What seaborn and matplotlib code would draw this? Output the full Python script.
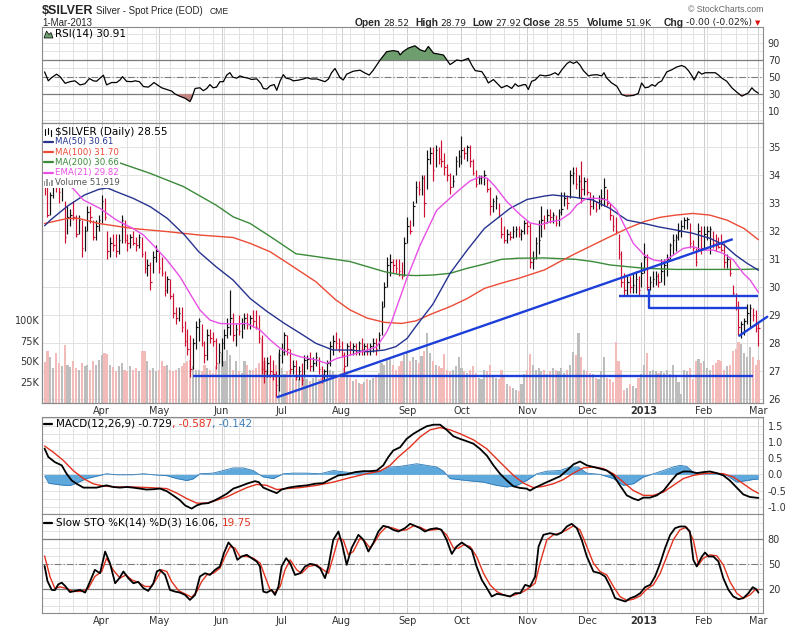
import numpy as np
import pandas as pd
import matplotlib
matplotlib.use("Agg")
import matplotlib.pyplot as plt
from matplotlib.lines import Line2D
from matplotlib.patches import Rectangle, Polygon
import seaborn as sns

# ======================= DATA =======================
holidays = ["2012-04-06", "2012-05-28", "2012-07-04", "2012-09-03", "2012-11-22",
            "2012-12-25", "2013-01-01", "2013-01-21", "2013-02-18"]

highs = [
    34.3, 33.6, 33.4, 34.0, 34.2, 33.7, 33.9, 33.1, 32.9, 32.8,
    33.1, 32.6, 32.6, 32.4, 32.2, 32.9, 32.9, 32.4, 32.4, 32.6,
    33.3, 33.2, 32.0, 31.8, 31.9, 31.9, 31.9, 32.6, 32.4, 31.9,
    31.9, 32.0, 31.8, 31.9, 31.8, 31.3, 31.0, 30.9, 31.3, 31.5,
    31.3, 31.1, 30.6, 30.4, 30.3, 29.8, 29.3, 29.3, 29.3, 28.8,
    28.5, 28.3, 28.2, 28.8, 28.9, 28.7, 28.1, 28.5, 28.5, 28.4,
    28.2, 28.0, 28.2, 28.5, 28.9, 29.9, 29.1, 28.7, 29.0, 28.9,
    29.1, 29.1, 29.0, 29.2, 29.2, 29.0, 28.3, 27.5, 27.5, 27.6,
    27.4, 27.0, 27.8, 28.0, 28.4, 28.3, 27.8, 27.4, 27.4, 27.2,
    27.3, 27.6, 27.6, 27.7, 27.5, 27.7, 27.5, 27.2, 27.1, 27.4,
    28.1, 28.3, 28.4, 28.2, 28.1, 27.7, 28.0, 28.1, 28.0, 28.0,
    28.1, 28.2, 28.0, 28.0, 28.0, 28.2, 28.2, 28.4, 29.5, 30.2,
    31.1, 31.2, 31.0, 31.0, 31.0, 30.9, 31.8, 32.5, 32.4, 33.1,
    33.8, 33.8, 34.0, 34.0, 34.9, 35.0, 35.0, 35.1, 35.0, 35.26,
    34.8, 34.4, 34.1, 34.0, 34.7, 34.9, 35.4, 35.0, 35.1, 35.1,
    34.6, 34.2, 34.0, 34.0, 34.2, 33.9, 33.6, 33.2, 33.3, 33.0,
    32.5, 32.2, 32.1, 32.0, 32.2, 32.2, 32.2, 32.1, 32.4, 32.4,
    32.3, 31.3, 31.8, 32.4, 32.9, 32.6, 32.8, 32.8, 32.7, 32.6,
    32.8, 33.4, 33.4, 33.3, 34.2, 34.3, 34.3, 34.0, 34.5, 33.95,
    33.9, 33.4, 33.3, 33.1, 33.3, 33.5, 33.9, 33.5, 33.0, 32.6,
    32.5, 31.9, 31.3, 30.5, 30.4, 30.4, 30.5, 30.6, 30.4, 30.9,
    31.6, 31.2, 30.4, 30.6, 30.6, 30.5, 31.0, 31.0, 31.2, 31.6,
    31.9, 31.9, 32.3, 32.4, 32.5, 32.5, 32.3, 31.7, 31.4, 32.3,
    32.2, 32.2, 32.2, 32.2, 32.0, 31.9, 31.8, 31.9, 31.6, 31.2,
    31.0, 30.1, 29.8, 29.5, 28.8, 28.9, 29.4, 29.4, 29.25, 29.2,
    28.79]

lows = [
    33.3, 32.5, 32.6, 33.2, 33.4, 33.0, 33.1, 31.6, 31.9, 32.2,
    32.4, 31.8, 31.9, 31.1, 31.3, 32.0, 32.3, 31.7, 31.7, 32.0,
    32.3, 32.4, 31.0, 31.1, 31.3, 31.1, 31.2, 31.6, 31.6, 31.3,
    31.4, 31.5, 31.3, 31.4, 31.1, 30.5, 30.4, 29.9, 30.5, 30.9,
    30.5, 30.4, 29.7, 29.8, 29.6, 28.9, 28.7, 28.8, 28.4, 27.9,
    27.6, 26.8, 27.1, 27.8, 28.1, 27.9, 27.3, 27.4, 28.0, 27.9,
    27.1, 27.3, 27.2, 27.8, 28.2, 28.3, 28.1, 27.9, 28.3, 28.2,
    28.5, 28.5, 28.5, 28.6, 28.5, 28.0, 26.9, 26.6, 26.8, 26.8,
    26.7, 26.1, 26.3, 27.3, 27.6, 27.6, 26.9, 26.9, 26.7, 26.7,
    26.5, 26.8, 27.1, 27.0, 27.0, 27.2, 26.9, 26.6, 26.7, 26.8,
    27.2, 27.6, 27.8, 27.7, 27.5, 26.95, 27.2, 27.6, 27.6, 27.6,
    27.6, 27.6, 27.6, 27.6, 27.6, 27.7, 27.6, 27.8, 28.3, 29.3,
    30.0, 30.4, 30.5, 30.5, 30.4, 30.3, 30.4, 31.6, 31.9, 32.2,
    33.0, 33.3, 33.3, 32.5, 33.5, 34.4, 33.8, 34.3, 34.4, 34.3,
    34.0, 33.8, 33.35, 33.6, 34.0, 34.3, 34.4, 34.6, 34.5, 34.3,
    34.0, 33.6, 33.7, 33.7, 33.65, 33.4, 32.6, 32.7, 32.8, 32.5,
    31.75, 31.6, 31.6, 31.7, 31.75, 31.8, 31.8, 31.7, 31.9, 31.9,
    30.7, 30.65, 31.0, 31.2, 31.8, 32.1, 32.3, 32.3, 32.3, 32.2,
    32.2, 32.6, 32.9, 32.8, 33.2, 33.7, 33.5, 33.2, 33.0, 33.3,
    33.3, 32.6, 32.8, 32.7, 32.8, 32.9, 32.9, 32.9, 32.4, 32.0,
    31.9, 31.0, 30.0, 29.7, 29.7, 29.8, 29.8, 29.8, 29.7, 30.0,
    30.5, 29.9, 29.9, 30.0, 30.1, 30.0, 30.2, 30.1, 30.4, 31.0,
    31.2, 31.3, 31.7, 31.8, 32.1, 32.1, 31.4, 31.3, 30.75, 31.3,
    31.2, 31.4, 31.7, 31.2, 31.4, 31.3, 31.4, 31.3, 30.7, 30.7,
    30.4, 29.7, 29.2, 28.3, 28.2, 28.3, 28.7, 28.6, 28.8, 28.4,
    27.92]

closes = [
    33.7, 32.6, 33.3, 33.8, 33.6, 33.4, 33.7, 31.8, 32.5, 32.6,
    32.5, 31.9, 32.4, 31.4, 32.0, 32.7, 32.5, 31.8, 32.2, 32.4,
    33.1, 32.5, 31.3, 31.6, 31.5, 31.3, 31.7, 32.4, 31.7, 31.6,
    31.8, 31.6, 31.5, 31.8, 31.2, 30.7, 30.8, 30.2, 31.1, 31.3,
    30.7, 30.5, 29.9, 30.3, 29.7, 29.1, 28.9, 29.1, 28.6, 28.1,
    27.8, 27.1, 28.0, 28.6, 28.8, 28.0, 27.6, 28.3, 28.2, 28.1,
    27.3, 27.7, 28.0, 28.3, 28.6, 28.9, 28.3, 28.5, 28.45, 28.7,
    28.9, 28.7, 28.9, 28.8, 28.6, 28.2, 27.1, 27.0, 27.3, 27.0,
    26.9, 26.5, 27.6, 27.7, 28.3, 27.8, 27.1, 27.2, 26.8, 27.0,
    26.7, 27.4, 27.45, 27.2, 27.3, 27.5, 27.1, 26.8, 27.0, 27.3,
    27.9, 28.1, 28.0, 27.9, 27.6, 27.2, 27.9, 27.8, 27.9, 27.7,
    28.0, 27.8, 27.9, 27.8, 27.9, 28.0, 27.8, 28.3, 29.3, 30.0,
    30.8, 30.9, 30.8, 30.7, 30.6, 30.4, 31.6, 32.2, 32.0, 32.9,
    33.6, 33.5, 33.9, 33.0, 34.6, 34.8, 34.2, 34.9, 34.6, 34.5,
    34.3, 34.0, 33.6, 33.8, 34.5, 34.7, 34.9, 34.8, 35.0, 34.5,
    34.1, 33.7, 33.9, 33.95, 34.0, 33.5, 32.9, 33.1, 33.2, 32.6,
    31.9, 31.7, 31.9, 31.8, 32.0, 32.1, 31.9, 32.0, 32.3, 32.2,
    30.9, 31.0, 31.6, 31.7, 32.4, 32.3, 32.6, 32.5, 32.6, 32.3,
    32.7, 32.8, 33.2, 33.0, 34.0, 34.1, 33.7, 33.8, 33.5, 33.8,
    33.4, 32.9, 33.1, 32.8, 33.1, 33.2, 33.6, 33.0, 32.6, 32.2,
    32.0, 31.2, 30.2, 29.9, 30.2, 30.0, 30.1, 30.3, 29.9, 30.5,
    31.1, 30.0, 30.2, 30.3, 30.4, 30.2, 30.6, 30.8, 31.0, 31.5,
    31.7, 31.8, 32.0, 32.2, 32.4, 32.45, 31.6, 31.4, 30.9, 32.0,
    31.4, 31.9, 32.0, 32.1, 31.6, 31.5, 31.45, 31.35, 30.9, 31.0,
    30.5, 29.8, 29.3, 28.6, 28.7, 28.8, 29.1, 29.25, 29.0, 28.55,
    28.55]

volumes_k = [
    49, 62, 55, 42, 60, 48, 44, 70, 45, 43,
    50, 42, 40, 48, 44, 45, 40, 50, 46, 52,
    58, 60, 59, 45, 43, 38, 44, 48, 40, 38,
    44, 40, 42, 38, 62, 63, 50, 40, 42, 38,
    40, 50, 44, 46, 40, 38, 40, 42, 44, 48,
    50, 52, 44, 40, 40, 38, 46, 42, 40, 36,
    44, 48, 60, 50, 64, 58, 40, 50, 38, 36,
    50, 45, 40, 40, 42, 48, 77, 50, 40, 35,
    38, 45, 60, 42, 35, 38, 40, 30, 32, 28,
    35, 30, 28, 26, 30, 32, 28, 30, 35, 32,
    40, 38, 35, 30, 36, 42, 38, 30, 26, 28,
    24, 22, 25, 28, 27, 30, 32, 36, 48, 45,
    52, 55, 46, 40, 44, 50, 58, 60, 50, 55,
    52, 48, 56, 63, 85, 60, 50, 45, 44, 42,
    59, 40, 38, 40, 44, 55, 42, 38, 36, 40,
    44, 36, 30, 28, 40, 38, 45, 34, 30, 28,
    40, 32, 22, 20, 18, 15, 14, 22, 35, 40,
    59, 45, 40, 42, 38, 40, 35, 38, 42, 40,
    38, 42, 36, 40, 45, 61, 58, 85, 55, 40,
    38, 36, 35, 30, 28, 38, 55, 30, 28, 25,
    73, 50, 40, 15, 18, 22, 20, 18, 30, 35,
    45, 60, 38, 40, 38, 36, 38, 36, 40, 35,
    45, 32, 25, 10, 40, 38, 42, 28, 50, 53,
    48, 50, 42, 40, 45, 48, 52, 50, 40, 44,
    45, 62, 65, 73, 71, 60, 55, 67, 55, 45,
    52]

ma50_day = [0, 2, 8, 14, 19, 22, 25, 31, 37, 43, 49, 54, 60, 66, 72, 78, 84, 89.5, 95, 101,
            107, 113, 119, 123, 127, 130, 136, 142, 148, 154, 160, 163, 169, 175, 178, 186,
            192, 198, 204, 210, 215, 221, 227, 233, 238, 242, 246, 250]
ma50_val = [32.2, 32.4, 32.9, 33.3, 33.5, 33.55, 33.42, 33.18, 32.88, 32.46, 31.87, 31.27,
            30.74, 30.26, 29.6, 29.13, 28.71, 28.36, 28.0, 27.76, 27.76, 27.7, 27.76, 27.88,
            28.18, 28.6, 29.4, 30.5, 31.33, 32.1, 32.58, 32.82, 33.14, 33.26, 33.3, 33.21,
            33.12, 32.82, 32.4, 32.28, 32.16, 32.05, 31.93, 31.75, 31.51, 31.15, 30.86, 30.61]

ma100_day = [0, 8, 12, 19, 31, 43, 54, 66, 72, 79, 87, 95, 102, 107, 113, 119, 125, 130, 136,
             142, 148, 154, 160, 166, 175, 180.5, 186, 192, 198, 204, 210, 215.5, 221, 227,
             233, 239, 245, 250]
ma100_val = [32.28, 32.46, 32.46, 32.28, 32.1, 31.99, 31.87, 31.78, 31.57, 31.27, 30.74, 30.2,
             29.55, 29.19, 28.9, 28.75, 28.71, 28.8, 29.07, 29.31, 29.6, 29.96, 30.15, 30.32,
             30.62, 30.92, 31.21, 31.51, 31.81, 32.1, 32.35, 32.5, 32.58, 32.64, 32.58, 32.4,
             32.1, 31.70]

ma200_day = [0, 10, 25, 37, 48.6, 60, 66, 72, 80, 88, 95, 107, 119, 125, 130, 136, 142, 148,
             154, 160, 166, 175, 186, 192, 198, 204, 210, 221, 233, 245, 250]
ma200_val = [35.1, 34.85, 34.49, 34.07, 33.6, 32.94, 32.52, 32.28, 31.75, 31.2, 31.1, 30.92,
             30.56, 30.44, 30.42, 30.44, 30.5, 30.68, 30.83, 31.0, 31.04, 31.05, 31.0, 30.92,
             30.8, 30.74, 30.68, 30.64, 30.64, 30.64, 30.66]

ema21_day = [0, 5, 10, 13.6, 19.4, 25.2, 31, 34.6, 38, 42.8, 47.4, 50.9, 54.4, 57.9, 61.4, 66,
             70.8, 75.4, 79, 82.5, 86, 89.5, 95.4, 98.8, 102.3, 107, 113, 116.3, 119.8, 121.5,
             126.8, 131.5, 137.3, 144.3, 149, 152.5, 155, 157.8, 161.9, 166.5, 170, 173.5, 177,
             180.5, 184, 186.4, 189.9, 193.4, 196.9, 200.4, 202.7, 206.2, 210, 213.2, 216.7,
             220.2, 223.7, 227.2, 230.7, 234.2, 237.7, 241.2, 244.7, 247.1, 250]
ema21_val = [34.0, 33.8, 33.53, 33.12, 32.82, 32.4, 32.1, 31.87, 31.51, 30.98, 30.38, 29.78,
             29.19, 28.83, 28.71, 28.69, 28.71, 28.48, 28.12, 27.82, 27.64, 27.52, 27.4, 27.28,
             27.46, 27.58, 27.76, 27.88, 28.4, 28.77, 30.3, 31.5, 32.75, 33.4, 33.8, 33.95,
             33.9, 33.6, 33.06, 32.6, 32.3, 32.23, 32.34, 32.4, 32.64, 32.94, 33.18, 33.18,
             33.12, 32.76, 32.28, 31.57, 31.15, 30.98, 30.92, 31.15, 31.39, 31.45, 31.33,
             31.33, 31.21, 30.98, 30.5, 30.26, 29.82]

rsi_day = [0, 1.3, 2.5, 4.2, 5.4, 7.2, 8.9, 10.6, 12.4, 14.1, 15.7, 17.1, 18.2, 20.6, 21.7,
           23.5, 25.2, 26.4, 27.3, 28.7, 30.5, 31.7, 33.2, 34.6, 36.3, 37.5, 38.3, 39.3, 41,
           42.8, 44.5, 45.7, 47.4, 49.2, 50.9, 51.5, 52.7, 54.4, 55.6, 56.8, 57.9, 59, 60.2,
           61.4, 62.6, 63.8, 64.9, 65.9, 67.3, 68.4, 69.6, 71.3, 72.5, 74.3, 75.7, 76.6, 77.8,
           79, 80.4, 81.3, 82.5, 83.6, 84.6, 86, 87.1, 88.9, 90.6, 91.8, 93.5, 95.3, 97, 98.2,
           99.4, 100.5, 101.7, 103.5, 104.6, 105.8, 108.1, 110.5, 112, 113.7, 115.1, 117.5,
           119.8, 122.1, 123.8, 124.5, 125.6, 127.4, 129.7, 131.5, 133.2, 134.4, 136.2, 138,
           139.7, 140.9, 142, 143.1, 144.3, 146.1, 148.4, 149.6, 150.8, 153.1, 154.3, 155.4,
           157.2, 158.9, 160, 161.9, 163.6, 164.8, 165.9, 167.7, 168.5, 169.4, 170.6, 171.8,
           173.5, 175.3, 177, 178.8, 179.9, 181.1, 183, 184, 185.2, 186.4, 187.5, 188.7,
           190.5, 191.7, 193.4, 195.1, 195.9, 196.9, 198.6, 200.4, 202.1, 203.8, 206.2,
           207.9, 209.1, 210.3, 211.5, 212.7, 213.8, 215, 216.1, 217.9, 219.7, 221.4, 223.1,
           224.3, 225.5, 226.7, 227.5, 229, 230.2, 231.3, 233.1, 234.9, 236, 237.2, 238.9,
           240.7, 242.4, 244.2, 245.3, 246.5, 247.7, 248.5, 250]
rsi_val = [56, 45.5, 49.4, 53.3, 50.4, 42.6, 44.5, 45.5, 40.7, 42, 48.2, 45.5, 45, 52.1, 40.7,
           43.5, 43.5, 46.5, 50.4, 44.9, 44.5, 45.5, 44.5, 38.8, 38.1, 41.1, 43.5, 41.1, 37.3,
           35.3, 33.4, 30.0, 27.3, 25, 21.1, 25, 36.5, 37.3, 33.9, 36.5, 41.1, 37.3, 38.1,
           44.5, 44.5, 52.3, 55.1, 49.8, 48.6, 51.3, 49.8, 48.6, 47.1, 47.8, 42.6, 36.5, 35.8,
           39.7, 41.1, 34.3, 45.5, 52.7, 48.6, 47.6, 45.5, 46.3, 47.6, 49.2, 47.6, 47.7, 45.8,
           44.5, 47.6, 55, 60, 49, 46.5, 53.3, 56.8, 58, 55, 52.3, 58, 70, 79.8, 81, 80, 76,
           80, 84, 86.7, 82, 80, 85.9, 78, 77, 75.8, 70, 64.6, 67, 70, 69, 72, 64, 57.5, 56.3,
           50.4, 43, 47, 41, 37.3, 40, 36.5, 42, 39, 41, 41, 35.3, 45, 46.5, 52.3, 51.3, 52.3,
           55, 52.3, 58.3, 66, 68, 66, 68, 64, 57.5, 51.3, 52.3, 52.7, 51.3, 55, 48.6, 43,
           39.2, 29.4, 27.5, 28.3, 30.6, 43, 37.3, 38.1, 41.1, 39.2, 43.5, 45.3, 56, 58.6,
           61.8, 63.5, 61.8, 57.5, 51.4, 46.5, 56.3, 53.3, 55, 55, 55, 52.3, 48.6, 45, 37.3,
           32.2, 27.5, 29.4, 31.4, 37.3, 34.3, 30.91]

macd_day = [0, 1.3, 3.6, 6, 7.7, 9.5, 11.2, 13.6, 16, 18.2, 20, 21.7, 24, 26.4, 28.7, 31, 33.4,
            35.7, 38, 40.4, 42.8, 45, 47.4, 49.2, 51.5, 53.3, 55, 57.3, 59.7, 61.4, 63.8, 66.1,
            68.4, 71.4, 73.7, 75, 76.6, 79, 81.3, 83, 85.4, 88.3, 91.8, 94.7, 97.6, 100.6,
            102.9, 105.8, 108.7, 111.7, 114, 116.3, 118.6, 120.4, 122.1, 124.5, 126.8, 129.2,
            131.5, 133.8, 136.2, 138.5, 140.8, 143.2, 145.5, 147.8, 150.2, 152.5, 154.9, 157.2,
            159.5, 161.9, 164.2, 166.5, 168.8, 170, 171.8, 173.5, 175.9, 178.2, 180.5, 182.9,
            185.2, 187.5, 189.9, 192.2, 194.5, 196.9, 199.2, 201.5, 203.9, 206.2, 207.9, 209.7,
            212, 214.4, 216.8, 219.1, 221.4, 223.7, 226, 228.4, 230.7, 233, 235.4, 237.7, 240,
            242.4, 244.7, 247, 250]
macd_val = [0.8, 0.54, 0.38, 0.28, 0.02, -0.19, -0.29, -0.41, -0.41, -0.41, -0.37, -0.34,
            -0.39, -0.41, -0.39, -0.41, -0.44, -0.47, -0.46, -0.44, -0.52, -0.65, -0.8, -0.96,
            -1.06, -0.96, -0.91, -0.89, -0.8, -0.72, -0.6, -0.44, -0.37, -0.27, -0.21, -0.24,
            -0.41, -0.5, -0.58, -0.47, -0.41, -0.37, -0.34, -0.29, -0.27, -0.13, -0.03, 0.0,
            0.07, 0.1, 0.1, 0.12, 0.28, 0.54, 0.74, 0.84, 1.1, 1.26, 1.38, 1.49, 1.54, 1.54,
            1.38, 1.18, 1.1, 1.03, 0.95, 0.79, 0.58, 0.28, 0.02, -0.19, -0.37, -0.42, -0.44,
            -0.5, -0.41, -0.34, -0.24, -0.15, -0.06, 0.12, 0.31, 0.4, 0.28, 0.23, 0.18, 0.12,
            -0.03, -0.34, -0.65, -0.75, -0.8, -0.72, -0.72, -0.65, -0.5, -0.24, 0.0, 0.09,
            0.09, 0.04, 0.07, 0.09, 0.04, -0.03, -0.19, -0.41, -0.62, -0.7, -0.729]

signal_day = [0, 3, 6.6, 10, 13.6, 17, 20.6, 25.2, 31, 36.9, 42.8, 46.3, 49.8, 53.3, 56.8,
              60.3, 63.8, 67.3, 70.8, 74.3, 77.8, 81.3, 84.8, 89.5, 95.3, 101.1, 107, 112.8,
              117.5, 121, 123.9, 128, 131.5, 135, 138.5, 142, 145.5, 150.2, 154.9, 159.5,
              164.2, 167.7, 171.2, 174.7, 178.2, 181.7, 185.2, 188.7, 192.2, 195.7, 199.2,
              202.7, 206.2, 209.7, 213.2, 216.7, 220.2, 223.7, 227.2, 230.7, 234.2, 237.7,
              241.2, 244.7, 247.6, 250]
signal_val = [0.88, 0.69, 0.43, 0.12, -0.13, -0.29, -0.36, -0.39, -0.39, -0.41, -0.44, -0.58,
              -0.75, -0.89, -0.89, -0.8, -0.7, -0.55, -0.41, -0.31, -0.34, -0.47, -0.44, -0.41,
              -0.34, -0.24, -0.1, 0.02, 0.1, 0.28, 0.54, 0.85, 1.16, 1.38, 1.45, 1.38, 1.26,
              1.07, 0.79, 0.38, -0.03, -0.27, -0.41, -0.37, -0.29, -0.16, 0.04, 0.2, 0.23, 0.18,
              0.02, -0.24, -0.5, -0.65, -0.65, -0.55, -0.34, -0.13, -0.03, 0.02, 0.04, 0.02,
              -0.08, -0.29, -0.47, -0.587]

hist_day = [0, 1.5, 3.6, 5, 7.2, 9, 11.2, 14.7, 18, 21.7, 25, 31, 34.6, 38, 42.8, 46.3, 49.8,
            52, 54.4, 59, 62.6, 66, 69.6, 73, 76.6, 80.1, 83.6, 87.1, 91.8, 96.5, 101.1, 104.6,
            108.1, 112.8, 117.5, 121, 124.5, 126.8, 130.3, 133.8, 137.3, 139.7, 142, 147.8,
            153.7, 158.3, 161.9, 165.4, 168.8, 172.4, 175.9, 180.5, 184, 186.9, 189.9, 194.5,
            199.2, 202.7, 206.2, 209.7, 213.2, 216.7, 220.2, 222.5, 224.8, 227.2, 230.7, 234.2,
            238.9, 242.4, 245.9, 248, 250]
hist_val = [-0.05, -0.28, -0.3, -0.32, -0.34, -0.34, -0.27, -0.13, -0.06, 0.02, -0.01, -0.01,
            0.02, -0.01, -0.04, -0.13, -0.19, -0.14, 0.02, 0.04, 0.12, 0.2, 0.2, 0.12, -0.08,
            -0.13, 0.02, 0.04, 0.04, 0.02, 0.12, 0.08, 0.05, 0.08, 0.12, 0.23, 0.25, 0.28, 0.33,
            0.28, 0.23, 0.1, -0.13, -0.19, -0.24, -0.34, -0.39, -0.34, -0.19, 0.02, 0.1, 0.12,
            0.23, 0.23, 0.04, 0.0, -0.13, -0.34, -0.29, -0.08, 0.02, 0.12, 0.23, 0.28, 0.25,
            0.07, 0.04, 0.02, -0.03, -0.24, -0.19, -0.16, -0.142]

stok_day = [0, 1, 2.5, 3.6, 4.8, 6, 7.2, 8.9, 10.6, 12.4, 14.2, 15.9, 17.6, 19.4, 21.2, 22.9,
            24.7, 26.2, 27.6, 29.3, 31.1, 32.8, 34.6, 36.3, 38.1, 39.3, 40.4, 42.2, 43.9, 45.7,
            47.4, 49.2, 50.9, 52.7, 54.4, 56.2, 57.9, 59.7, 61.4, 62.8, 64.4, 66.1, 67.5, 69,
            70.8, 72.5, 74.3, 75.4, 76.6, 77.8, 79.5, 80.7, 81.9, 83, 84.6, 86, 87.7, 89.5, 91.2,
            93, 94.7, 96.5, 98.2, 99.4, 101.1, 102.9, 104.1, 105.8, 107.5, 109.9, 111.7, 113.4,
            115.1, 116.9, 118.6, 120.4, 122.1, 123.9, 126.2, 128, 129.7, 131.5, 133.2, 135,
            137.3, 139, 140.8, 142.6, 144.3, 146.1, 147.8, 149.6, 151.3, 153.1, 154.9, 156.6,
            158.4, 160.7, 163, 164.8, 166.6, 168.3, 170, 171.8, 173, 174.7, 177, 179.4, 181.1,
            182.9, 184.6, 186.4, 188.1, 189.9, 192.2, 194.5, 196.3, 198.1, 199.8, 201.6, 203.4,
            205.1, 206.8, 208.6, 210.3, 212.1, 213.8, 215.6, 217.3, 219.1, 220.8, 222.5, 224.3,
            226, 227.2, 228.4, 230.2, 231.3, 232.5, 234.2, 236, 237.7, 239.5, 241.2, 243, 244.7,
            246.5, 248, 249.2, 250]
stok_val = [48, 30, 19.3, 19, 26, 28, 24, 16.7, 18, 19.3, 16.1, 29.3, 43.4, 39.3, 65.3, 51.3,
            27.3, 33.4, 41.4, 33.4, 27.3, 29, 21.4, 18.1, 27.3, 41.4, 43.4, 37.3, 19.3, 17.3,
            16.1, 13.3, 7.3, 13.3, 35.4, 39.3, 37.3, 43.4, 47.4, 63.4, 76.2, 69.4, 55.4, 59.4,
            61.4, 57.4, 53.4, 47.4, 17.3, 16.1, 19.3, 13.3, 23.4, 47.4, 57.4, 51.3, 37.3, 39.3,
            47.4, 50.6, 49.4, 45.3, 33.4, 47.4, 79.4, 89.4, 75.4, 49.4, 69.4, 85.4, 79.4, 65.4,
            75.4, 89.4, 96.2, 94.6, 91.4, 89.4, 93.4, 98.6, 96.2, 93.4, 89.4, 92.2, 93.4, 91.4,
            79.4, 62.5, 71.4, 76.2, 72.2, 67.4, 47.4, 31.4, 21.4, 11.4, 14.6, 13.3, 11.4, 15.4,
            15.4, 25.4, 23.4, 35.4, 71.4, 85.4, 87.4, 85.4, 88.2, 95.4, 98.6, 93.4, 79.4, 59.4,
            41.4, 39.3, 35.4, 23.4, 9.4, 7.4, 5.4, 9.4, 11.4, 15.4, 22.6, 25.4, 35.4, 51.4, 69.4,
            85.4, 93.4, 95.4, 95.4, 89.4, 55.4, 47.4, 59.4, 64.2, 59.4, 59.4, 53.4, 33.4, 19.4,
            11.4, 8.2, 9.4, 15.4, 22.6, 20.2, 16.06]

stod_day = [0, 1.9, 3.6, 5.4, 7.7, 10, 13, 15.3, 17.6, 20, 21.7, 24, 26.4, 28.5, 30.5, 32.8,
            35.2, 37.5, 39.3, 41, 42.8, 44.5, 46.9, 49.2, 51.5, 53.3, 55, 56.8, 59.1, 61.4, 63.2,
            65, 66.7, 68.4, 70.8, 73.1, 75.5, 77.2, 79, 80.7, 82.5, 84.2, 86, 88.3, 90, 92.4,
            95.3, 97.6, 99.4, 101.1, 102.9, 104.6, 106.4, 108.1, 110.5, 112.2, 114, 115.7,
            117.5, 119.8, 122.1, 124.5, 126.8, 129.2, 131.5, 133.8, 136.2, 138.5, 140.8, 143.2,
            144.9, 146.7, 149, 151.3, 153.7, 156, 158.4, 160.7, 163, 165.4, 167.7, 170, 171.8,
            173.5, 175.9, 178.2, 180.5, 182.9, 185.2, 187.5, 189.9, 192.2, 194.5, 196.9, 199.2,
            201.5, 203.9, 206.2, 208.6, 210.9, 213.2, 215.6, 217.9, 220.2, 222.5, 224.9, 227.2,
            229, 230.7, 233, 235.4, 237.7, 240, 242.4, 244.7, 247, 248.8, 250]
stod_val = [60, 35, 21, 23, 21, 17.5, 17.5, 21, 35.4, 41.4, 57.4, 43.4, 33.4, 37.3, 31.4, 28.2,
            23.4, 23.4, 33.4, 43.4, 41.4, 29.3, 18.5, 14.5, 10.5, 17.3, 29.3, 37.3, 39.3, 45.3,
            59.4, 71.4, 69.4, 59.4, 59.4, 57.4, 51.4, 35.4, 19.3, 16.1, 23.4, 43.4, 55.4, 43.4,
            39.3, 47.4, 49.4, 43.4, 39.3, 59.4, 81.4, 79.4, 61.4, 65.4, 81.4, 77.4, 69.4, 77.4,
            87.4, 95.4, 93.4, 90.6, 91.4, 96.2, 94.6, 90.6, 91.4, 92.2, 85.4, 69.4, 69.4, 73.4,
            71.4, 59.4, 39.3, 25.4, 17.3, 13.3, 11.4, 14.2, 17.3, 22.6, 27.4, 51.4, 79.4, 85.4,
            87.4, 91.4, 96.2, 91.4, 71.4, 51.4, 41.4, 37.3, 23.4, 11.4, 6.6, 8.2, 12.2, 20.2,
            25.4, 39.3, 59.4, 79.4, 91.4, 94.6, 79.4, 49.4, 57.4, 61.4, 60.2, 49.4, 29.3, 15.4,
            9.4, 13.3, 19.3, 19.75]

# annotation lines drawn on the price panel (day index, price)
uptrend_x, uptrend_y = [81.3, 241.0], [26.07, 31.72]
support_x, support_y = [52.0, 248.0], [26.83, 26.83]
neck1_x, neck1_y = [201.3, 250.0], [29.70, 29.70]
neck2_x, neck2_y = [211.5, 211.5, 245.9], [29.95, 29.25, 29.25]
wedge_x, wedge_y = [243.3, 253.1], [28.27, 28.95]

# header quote: (label, value, x position of label in px)
header_pieces = [("Open", "28.52", 355), ("High", "28.79", 415), ("Low", "27.92", 472),
                 ("Close", "28.55", 523), ("Volume", "51.9K", 586.5), ("Chg", "-0.00 (-0.02%)", 664)]

# ======================= FIGURE =======================
sns.set_theme(style="white")
plt.rcParams["font.family"] = ["DejaVu Sans"]

W, H = 800, 628
fig = plt.figure(figsize=(W / 100, H / 100), dpi=100)
fig.patch.set_facecolor("white")

C50, C100, C200, CEMA = "#26338f", "#ec4b36", "#3a8a3a", "#e94fe6"
UPC, DNC = "#111111", "#cc1133"
VUP, VDN = "#bdbdbd", "#f3baba"
TREND = "#1d3fd9"
GRID, GRIDM = "#e2e2e2", "#cdcdcd"
REFL = "#7c7c7c"

dates = pd.bdate_range("2012-03-05", "2013-03-01")
dates = dates[~dates.isin(pd.to_datetime(holidays))]
n = len(dates)
idx = np.arange(n)
df = pd.DataFrame({"high": highs, "low": lows, "close": closes, "vol": volumes_k}, index=idx)
df["up"] = df["close"] > df["close"].shift(1)

month_start = [i for i in range(n) if i == 0 or dates[i].month != dates[i - 1].month]
week_start = [i for i in range(n) if i > 0 and dates[i].weekday() < dates[i - 1].weekday()]
month_ticks = month_start[1:]
month_labels = [str(dates[i].year) if dates[i].month == 1 else dates[i].strftime("%b")
                for i in month_ticks]
XL = (-0.91, 251.6)


def fx(x):
    return x / W


def fy(y):
    return 1 - y / H


def rect(top, bottom):
    return [fx(42), fy(bottom), (763 - 42) / W, (bottom - top) / H]


def frame(ax, grid=True):
    ax.set_facecolor("white")
    for s in ax.spines.values():
        s.set_color("#8a8a8a")
        s.set_linewidth(0.8)
    ax.tick_params(length=0, labelsize=7, colors="#333333")
    ax.grid(False)
    if grid:
        for i in week_start:
            ax.axvline(i, color=GRID, lw=0.7, zorder=0)
        for i in month_ticks:
            ax.axvline(i, color=GRIDM, lw=0.7, zorder=0)


def clean(ax):
    ax.set_xlabel("")
    ax.set_ylabel("")
    ax.set_xlim(*XL)


# ---------- RSI panel ----------
ax_rsi = fig.add_axes(rect(27, 123))
frame(ax_rsi)
for v in range(0, 101, 10):
    ax_rsi.axhline(v, color=GRID, lw=0.7, zorder=0)
ax_rsi.axhline(70, color=REFL, lw=0.9, zorder=1)
ax_rsi.axhline(30, color=REFL, lw=0.9, zorder=1)
ax_rsi.axhline(50, color=REFL, lw=0.8, ls=(0, (6, 2, 1, 2)), zorder=1)
rsi_df = pd.DataFrame({"day": rsi_day, "rsi": rsi_val})
ax_rsi.fill_between(rsi_df["day"], rsi_df["rsi"], 70, where=rsi_df["rsi"] >= 70,
                    interpolate=True, color="#6e9e6e", lw=0, zorder=2)
ax_rsi.fill_between(rsi_df["day"], rsi_df["rsi"], 30, where=rsi_df["rsi"] <= 30,
                    interpolate=True, color="#c48585", lw=0, zorder=2)
sns.lineplot(data=rsi_df, x="day", y="rsi", ax=ax_rsi, color="black", linewidth=0.9,
             estimator=None, legend=False, zorder=3)
clean(ax_rsi)
ax_rsi.set_ylim(-4.1, 108.8)
ax_rsi.yaxis.tick_right()
ax_rsi.set_yticks([10, 30, 50, 70, 90])
ax_rsi.set_xticks([])
ax_rsi.tick_params(axis="y", pad=3.5)

# ---------- Price + volume panel ----------
PLO, PHI = 25.886, 35.87
VHI = 339.5
ax_vol = fig.add_axes(rect(123, 402.5))
frame(ax_vol)
for p in range(26, 36):
    ax_vol.axhline((p - PLO) / (PHI - PLO) * VHI, color=GRID, lw=0.7, zorder=0)
ax_vol.bar(idx, df["vol"], width=0.75, color=np.where(df["up"], VUP, VDN), lw=0, zorder=1)
clean(ax_vol)
ax_vol.set_ylim(0, VHI)
ax_vol.yaxis.tick_left()
ax_vol.set_yticks([25, 50, 75, 100])
ax_vol.set_yticklabels(["25K", "50K", "75K", "100K"])
ax_vol.tick_params(axis="y", pad=2)
ax_vol.set_xticks([])

ax_px = fig.add_axes(rect(123, 402.5))
frame(ax_px, grid=False)
ax_px.patch.set_visible(False)
bar_col = np.where(df["up"], UPC, DNC)
ax_px.vlines(idx, df["low"], df["high"], colors=bar_col, lw=0.85, zorder=3)
ax_px.hlines(df["close"], idx, idx + 0.55, colors=bar_col, lw=0.85, zorder=3)
for dx, dv, col, lw in [(ma200_day, ma200_val, C200, 1.0), (ma100_day, ma100_val, C100, 1.0),
                        (ma50_day, ma50_val, C50, 1.0), (ema21_day, ema21_val, CEMA, 1.0)]:
    sns.lineplot(x=dx, y=dv, ax=ax_px, color=col, linewidth=lw, estimator=None,
                 legend=False, zorder=4)
for lx, ly in [(uptrend_x, uptrend_y), (support_x, support_y), (neck1_x, neck1_y),
               (neck2_x, neck2_y)]:
    ax_px.plot(lx, ly, color=TREND, lw=1.7, zorder=5, solid_capstyle="butt")
ax_px.plot(wedge_x, wedge_y, color=TREND, lw=1.7, zorder=5, clip_on=False)
clean(ax_px)
ax_px.set_ylim(PLO, PHI)
ax_px.yaxis.tick_right()
ax_px.set_yticks(range(26, 36))
ax_px.tick_params(axis="y", pad=3.5)
ax_px.set_xticks(month_ticks)
ax_px.set_xticklabels(month_labels)
ax_px.tick_params(axis="x", pad=2.6, labelsize=7)
for lab in ax_px.get_xticklabels():
    if lab.get_text().isdigit():
        lab.set_fontweight("bold")

# ---------- MACD panel ----------
ax_macd = fig.add_axes(rect(417, 514))
frame(ax_macd)
for v in np.arange(-1.25, 1.76, 0.25):
    ax_macd.axhline(v, color=GRID, lw=0.7, zorder=0)
ax_macd.fill_between(hist_day, 0, hist_val, color="#5ea8dc", lw=0, zorder=1)
ax_macd.plot(hist_day, hist_val, color="#2f78b6", lw=0.6, zorder=1)
sns.lineplot(x=signal_day, y=signal_val, ax=ax_macd, color="#e2321f", linewidth=1.0,
             estimator=None, legend=False, zorder=3)
sns.lineplot(x=macd_day, y=macd_val, ax=ax_macd, color="black", linewidth=1.3,
             estimator=None, legend=False, zorder=4)
clean(ax_macd)
ax_macd.set_ylim(-1.227, 1.778)
ax_macd.yaxis.tick_right()
ax_macd.set_yticks([-1.0, -0.5, 0.0, 0.5, 1.0, 1.5])
ax_macd.set_yticklabels(["-1.0", "-0.5", "0.0", "0.5", "1.0", "1.5"])
ax_macd.tick_params(axis="y", pad=3.5)
ax_macd.set_xticks([])

# ---------- Slow stochastic panel ----------
ax_sto = fig.add_axes(rect(514, 613))
frame(ax_sto)
for v in range(0, 101, 10):
    ax_sto.axhline(v, color=GRID, lw=0.7, zorder=0)
ax_sto.axhline(80, color=REFL, lw=0.9, zorder=1)
ax_sto.axhline(20, color=REFL, lw=0.9, zorder=1)
ax_sto.axhline(50, color=REFL, lw=0.8, ls=(0, (6, 2, 1, 2)), zorder=1)
sns.lineplot(x=stod_day, y=stod_val, ax=ax_sto, color="#e2321f", linewidth=1.0,
             estimator=None, legend=False, zorder=3)
sns.lineplot(x=stok_day, y=stok_val, ax=ax_sto, color="black", linewidth=1.3,
             estimator=None, legend=False, zorder=4)
clean(ax_sto)
ax_sto.set_ylim(-8.4, 110.4)
ax_sto.yaxis.tick_right()
ax_sto.set_yticks([20, 50, 80])
ax_sto.tick_params(axis="y", pad=3.5)
ax_sto.set_xticks(month_ticks)
ax_sto.set_xticklabels(month_labels)
ax_sto.tick_params(axis="x", pad=1.8, labelsize=7)
for lab in ax_sto.get_xticklabels():
    if lab.get_text().isdigit():
        lab.set_fontweight("bold")

# ---------- header ----------
fig.canvas.draw()
renderer = fig.canvas.get_renderer()


def right_edge(t):
    return t.get_window_extent(renderer).x1


t_sym = fig.text(fx(42), fy(14.5), "$SILVER", fontsize=9, fontweight="bold",
                 family="Liberation Sans", va="baseline")
t_name = fig.text(fx(right_edge(t_sym) + 3), fy(14.5), "Silver - Spot Price (EOD)",
                  fontsize=6.9, family="Liberation Sans", va="baseline")
fig.text(fx(right_edge(t_name) + 6), fy(14.5), "CME", fontsize=6.2,
         family="Liberation Sans", va="baseline")
fig.text(fx(42), fy(25.5), "1-Mar-2013", fontsize=7, family="Liberation Sans",
         va="baseline")
fig.text(fx(763), fy(12.5), "\u00a9 StockCharts.com", fontsize=6.3, color="#666666",
         family="Liberation Sans", va="baseline", ha="right")
last_x = 0
for lab, val, x in header_pieces:
    tl = fig.text(fx(x), fy(25.5), lab, fontsize=7.4, family="Liberation Sans",
                  va="baseline", fontweight="bold")
    tv = fig.text(fx(right_edge(tl) + 2.5), fy(25.5), val, fontsize=6.6,
                  family="DejaVu Sans", va="baseline", color="#222222")
    last_x = right_edge(tv)
fig.text(fx(last_x + 2), fy(25), "\u25bc", fontsize=5, color="#dd1111", va="baseline")


def seq(x, y, pieces, size):
    for s, col in pieces:
        t = fig.text(fx(x), fy(y), s, color=col, fontsize=size, va="center", ha="left",
                     zorder=6)
        x = t.get_window_extent(renderer).x1
    return x


# RSI legend
fig.add_artist(Polygon([(fx(44), fy(38)), (fx(46.5), fy(31)), (fx(49), fy(34.5)),
                        (fx(51), fy(32.5)), (fx(53), fy(38))], closed=True,
                       transform=fig.transFigure, facecolor="#6e9e6e",
                       edgecolor="black", lw=0.5, zorder=5))
seq(55, 34, [("RSI(14) 30.91", "black")], 7.5)

# main legend
entries = [("$SILVER (Daily) 28.55", "black", 7.5, "ohlc"),
           ("MA(50) 30.61", C50, 6.2, "line"),
           ("MA(100) 31.70", C100, 6.2, "line"),
           ("MA(200) 30.66", C200, 6.2, "line"),
           ("EMA(21) 29.82", CEMA, 6.2, "line"),
           ("Volume 51,919", "#555555", 6.2, "vol")]
for k, (s, col, fs, icon) in enumerate(entries):
    yc = 131.7 + 10.2 * k
    x1 = seq(55, yc, [(s, col)], fs)
    fig.add_artist(Rectangle((fx(43), fy(yc + 5.1)), (x1 + 1 - 43) / W, 10.2 / H,
                             transform=fig.transFigure, facecolor="white",
                             edgecolor="none", zorder=4))
    if icon == "line":
        fig.add_artist(Line2D([fx(44), fx(53)], [fy(yc), fy(yc)], transform=fig.transFigure,
                              color=col, lw=1.6, zorder=5))
    elif icon == "ohlc":
        for xx, a, b in [(45, -3, 3), (48, -4, 2), (51, -2, 4)]:
            fig.add_artist(Line2D([fx(xx), fx(xx)], [fy(yc + b), fy(yc + a)],
                                  transform=fig.transFigure, color="black", lw=0.8,
                                  zorder=5))
    else:
        for xx, hgt in [(44.5, 5), (47, 7), (49.5, 4), (52, 6)]:
            fig.add_artist(Rectangle((fx(xx - 0.9), fy(yc + 3.5)), 1.8 / W, hgt / H,
                                     transform=fig.transFigure, facecolor="#9a9a9a",
                                     edgecolor="none", zorder=5))

# MACD legend
fig.add_artist(Line2D([fx(44), fx(52)], [fy(424), fy(424)], transform=fig.transFigure,
                      color="black", lw=1.6, zorder=5))
seq(56, 424, [("MACD(12,26,9) -0.729", "black"), (", -0.587", "#e2321f"),
              (", -0.142", "#3a7fc0")], 7.5)

# STO legend
fig.add_artist(Line2D([fx(44), fx(52)], [fy(522.5), fy(522.5)], transform=fig.transFigure,
                      color="black", lw=1.6, zorder=5))
seq(56, 522.5, [("Slow STO %K(14) %D(3) 16.06, ", "black"), ("19.75", "#e2321f")], 7.5)

fig.savefig("out.png", dpi=100, facecolor="white")
